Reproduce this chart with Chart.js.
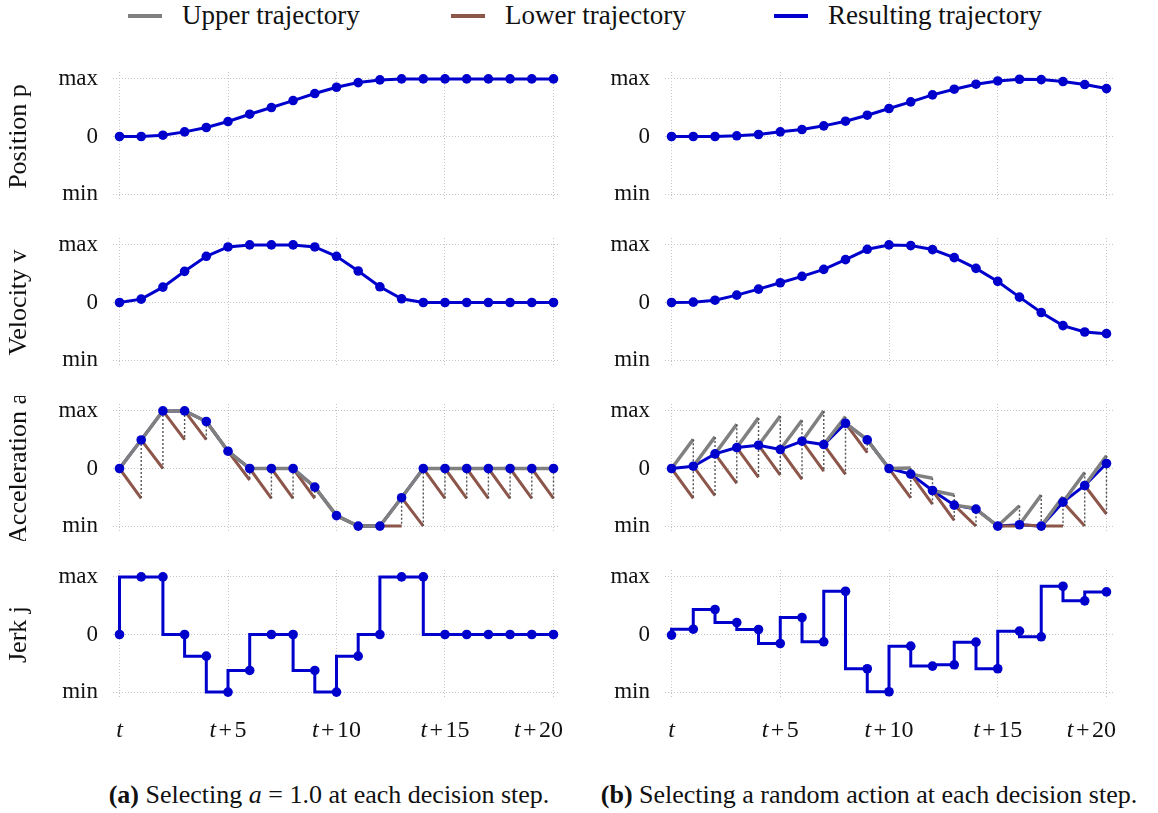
<!DOCTYPE html>
<html>
<head>
<meta charset="utf-8">
<script src="https://cdn.jsdelivr.net/npm/chart.js@4.4.1/dist/chart.umd.min.js"></script>
<style>
  body { margin:0; background:#fff; width:1158px; height:813px; position:relative; overflow:hidden; font-family:"Liberation Serif", serif; color:#111; }
  canvas { position:absolute; }
  .lg { position:absolute; top:0; height:30px; line-height:30px; font-size:27px; white-space:nowrap; }
  .sw { position:absolute; top:14px; height:4px; width:34px; }
  .cap { position:absolute; top:779px; font-size:26px; line-height:32px; white-space:nowrap; text-align:center; }
</style>
</head>
<body>
<div class="sw" style="left:128px;background:#808080"></div>
<div class="lg" style="left:182px">Upper trajectory</div>
<div class="sw" style="left:451px;background:#8c564b"></div>
<div class="lg" style="left:505px">Lower trajectory</div>
<div class="sw" style="left:774px;background:#0000cd"></div>
<div class="lg" style="left:828px">Resulting trajectory</div>

<canvas id="pA" width="575" height="145" style="left:0;top:64px"></canvas>
<canvas id="pB" width="578" height="145" style="left:580px;top:64px"></canvas>
<canvas id="vA" width="575" height="145" style="left:0;top:230px"></canvas>
<canvas id="vB" width="578" height="145" style="left:580px;top:230px"></canvas>
<canvas id="aA" width="575" height="145" style="left:0;top:396px"></canvas>
<canvas id="aB" width="578" height="145" style="left:580px;top:396px"></canvas>
<canvas id="jA" width="575" height="185" style="left:0;top:562px"></canvas>
<canvas id="jB" width="578" height="185" style="left:580px;top:562px"></canvas>

<div class="cap" style="left:79px;width:500px"><b>(a)</b> Selecting <i>a</i> = 1.0 at each decision step.</div>
<div class="cap" style="left:589px;width:560px"><b>(b)</b> Selecting a random action at each decision step.</div>

<script>
// time steps and ticks
const steps = [0,1,2,3,4,5,6,7,8,9,10,11,12,13,14,15,16,17,18,19,20];
const xTicks = [0,5,10,15,20];
const xTickSuffix = ['', '+5', '+10', '+15', '+20'];
const yTicks = [-1,0,1];
const yTickText = ['min','0','max'];

// (a) a = 1.0
const posA = [0,0,0.023,0.08,0.156,0.26,0.387,0.503,0.624,0.746,0.855,0.936,0.983,1,1,1,1,1,1,1,1];
const velA = [0,0.058,0.267,0.541,0.802,0.965,1,1,1,0.965,0.802,0.547,0.273,0.064,0,0,0,0,0,0,0];
const accA = [0,0.496,1,1,0.816,0.3,0,0,0,-0.323,-0.818,-1,-1,-0.507,0,0,0,0,0,0,0];
const upA  = [0.496,1,1,0.816,0.3,0,0,0,-0.323,-0.818,-1,-1,-0.507,0,0,0,0,0,0,0];
const loA  = [-0.52,0,0.5,0.5,0.3,-0.2,-0.52,-0.52,-0.52,-0.818,-1,-1,-1,-1,-0.52,-0.52,-0.52,-0.52,-0.52,-0.52];
const jerkA = [0,1,1,0,-0.376,-1,-0.624,0,0,-0.624,-1,-0.376,0,1,1,0,0,0,0,0,0];

// (b) random action
const posB = [0,0,0,0.012,0.035,0.081,0.121,0.185,0.266,0.37,0.486,0.601,0.723,0.821,0.908,0.965,0.994,0.988,0.954,0.902,0.832];
const velB = [0,0.006,0.04,0.128,0.233,0.343,0.453,0.576,0.744,0.924,1,0.988,0.919,0.779,0.593,0.366,0.093,-0.174,-0.401,-0.512,-0.541];
const accB = [0,0.04,0.254,0.364,0.405,0.33,0.474,0.416,0.786,0.497,0,-0.098,-0.382,-0.636,-0.705,-1,-0.977,-1,-0.584,-0.295,0.087];
const upB  = [0.509,0.549,0.769,0.879,0.913,0.838,1,0.9,0.5,0,0.01,-0.17,-0.46,-0.69,-1,-0.647,-0.46,-0.49,-0.07,0.22];
const loB  = [-0.52,-0.47,-0.26,-0.156,-0.116,-0.19,-0.046,-0.1,0.277,0,-0.51,-0.62,-0.9,-1,-1,-1,-1,-1,-1,-0.79];
const jerkB = [-0.01,0.092,0.434,0.208,0.087,-0.156,0.295,-0.127,0.751,-0.595,-0.994,-0.202,-0.549,-0.526,-0.133,-0.595,0.058,-0.04,0.838,0.584,0.74];

const BLUE = '#0000cd', GRAY = '#808080', BROWN = '#8c564b';
const FONT = 'Liberation Serif';

function pts(arr){ return steps.map((x,i)=>({x:x, y:arr[i]})); }
// short segment from each point to next step
function segs(start, ends){
  const d = [];
  ends.forEach((e,i)=>{ d.push({x:steps[i],y:start[i]},{x:steps[i+1],y:e},{x:steps[i+1],y:null}); });
  return d;
}
// dotted drop between upper and lower end
function drops(up, lo){
  const d = [];
  up.forEach((u,i)=>{ d.push({x:steps[i+1],y:u},{x:steps[i+1],y:lo[i]},{x:steps[i+1],y:null}); });
  return d;
}

const xLabelPlugin = {
  id:'xLabels',
  afterDraw(chart){
    const ctx = chart.ctx, sx = chart.scales.x, y = chart.chartArea.bottom + 32;
    ctx.save();
    ctx.fillStyle = '#111';
    ctx.textBaseline = 'middle';
    ctx.textAlign = 'left';
    xTicks.forEach((v,k)=>{
      const suf = xTickSuffix[k];
      ctx.font = 'italic 24px "'+FONT+'"';
      const tw = ctx.measureText('t').width;
      ctx.font = '24px "'+FONT+'"';
      const gap = suf ? 2.5 : 0;
      const pw = suf ? ctx.measureText('+').width : 0;
      const dw = suf ? ctx.measureText(suf.slice(1)).width : 0;
      const total = tw + 2*gap + pw + dw;
      const x0 = sx.getPixelForValue(v) - total/2 + (k === xTicks.length-1 ? -15 : 0);
      ctx.font = 'italic 24px "'+FONT+'"';
      ctx.fillText('t', x0, y);
      if (suf) {
        ctx.font = '24px "'+FONT+'"';
        ctx.fillText('+', x0+tw+gap, y);
        ctx.fillText(suf.slice(1), x0+tw+2*gap+pw, y);
      }
    });
    ctx.restore();
  }
};

function makeOptions(col, bottom, title){
  return {
    responsive:false,
    animation:false,
    layout:{ padding:{ top:8, bottom: bottom ? 48 : 8, left:0, right: col===0 ? 15 : 45 } },
    plugins:{ legend:{display:false}, tooltip:{enabled:false} },
    scales:{
      x:{
        type:'linear', min:-0.3, max:20.3,
        afterBuildTicks: s => { s.ticks = xTicks.map(v=>({value:v})); },
        afterFit: s => { s.height = 0; s.paddingLeft = 0; s.paddingRight = 0; },
        ticks:{ display:false },
        grid:{ color:'#c4c4c4', lineWidth:1, drawTicks:false },
        border:{ display:false, dash:[1,2] }
      },
      y:{
        min:-1.12, max:1.12,
        afterBuildTicks: s => { s.ticks = yTicks.map(v=>({value:v})); },
        afterFit: s => { s.width = col===0 ? 113 : 85; s.paddingTop = 0; s.paddingBottom = 0; },
        ticks:{ padding:15, color:'#111', font:{family:FONT, size:23}, callback:(v,i)=>yTickText[i] },
        grid:{ color:'#c4c4c4', lineWidth:1, drawTicks:false },
        border:{ display:false, dash:[1,2] },
        title:{ display: col===0, text:title, color:'#111', font:{family:FONT, size:26}, padding:{top:4, bottom:0} }
      }
    }
  };
}

function blueLine(arr, extra){
  return Object.assign({
    data: pts(arr), borderColor:BLUE, backgroundColor:BLUE, borderWidth:3,
    pointRadius:4.8, pointBorderWidth:0, pointBackgroundColor:BLUE, tension:0
  }, extra || {});
}

function simplePanel(id, col, arr, title){
  new Chart(document.getElementById(id), {
    type:'line',
    data:{ datasets:[ blueLine(arr) ] },
    options: makeOptions(col, false, title)
  });
}

function accPanel(id, col, acc, up, lo, title){
  new Chart(document.getElementById(id), {
    type:'line',
    data:{ datasets:[
      { data: pts(acc), showLine:false, pointRadius:4.8, pointBorderWidth:0, pointBackgroundColor:BLUE, borderColor:BLUE },
      { data: drops(up, lo), borderColor:'#555', borderWidth:1.4, borderDash:[2,2], pointRadius:0 },
      { data: segs(acc, up), borderColor:GRAY, borderWidth:3.5, pointRadius:0 },
      { data: segs(acc, lo), borderColor:BROWN, borderWidth:3, pointRadius:0 },
      { data: pts(acc), borderColor:BLUE, borderWidth:3, pointRadius:0 }
    ]},
    options: makeOptions(col, false, title)
  });
}

function jerkPanel(id, col, arr, title){
  new Chart(document.getElementById(id), {
    type:'line',
    data:{ datasets:[ blueLine(arr, {stepped:'after'}) ] },
    options: makeOptions(col, true, title),
    plugins:[ xLabelPlugin ]
  });
}

simplePanel('pA', 0, posA, 'Position p');
simplePanel('pB', 1, posB, '');
simplePanel('vA', 0, velA, 'Velocity v');
simplePanel('vB', 1, velB, '');
accPanel('aA', 0, accA, upA, loA, 'Acceleration a');
accPanel('aB', 1, accB, upB, loB, '');
jerkPanel('jA', 0, jerkA, 'Jerk j');
jerkPanel('jB', 1, jerkB, '');
</script>
</body>
</html>
